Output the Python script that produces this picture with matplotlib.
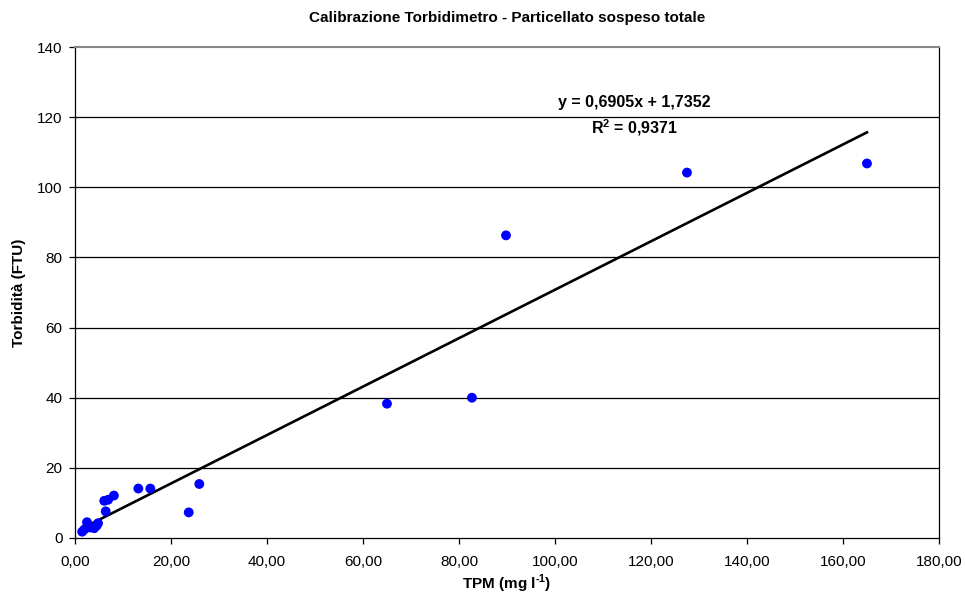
import numpy as np
import matplotlib.pyplot as plt
from matplotlib.ticker import FuncFormatter

plt.rcParams['font.family'] = ['Liberation Sans', 'DejaVu Sans']
plt.rcParams['mathtext.fontset'] = 'custom'
plt.rcParams['mathtext.rm'] = 'Liberation Sans'
plt.rcParams['mathtext.bf'] = 'Liberation Sans:bold'

# TPM (mg/l) vs torbidita (FTU)
tpm = [1.5, 2.0, 2.5, 3.2, 4.0, 4.5, 4.8, 6.4, 6.1, 6.9, 8.1,
       13.2, 15.7, 23.7, 25.9, 65.0, 82.7, 89.8, 127.5, 165.0]
ftu = [1.8, 2.5, 4.5, 3.0, 2.8, 3.5, 4.2, 7.6, 10.6, 10.9, 12.1,
       14.1, 14.1, 7.3, 15.4, 38.3, 40.0, 86.3, 104.2, 106.8]

slope = 0.6905
intercept = 1.7352
r2 = 0.9371

fig = plt.figure(figsize=(9.65, 6.03), dpi=100)
ax = fig.add_axes([0.0777, 0.1078, 0.8953, 0.8142])

for yv in range(20, 140, 20):
    ax.axhline(yv, color='black', lw=0.9, zorder=1)

ax.scatter(tpm, ftu, s=50, color='#0000ff', zorder=3, edgecolors='none')

xl = np.array([min(tpm), max(tpm)])
ax.plot(xl, slope * xl + intercept, color='black', lw=1.9, zorder=2)

ax.set_xlim(0, 180)
ax.set_ylim(0, 140)
ax.set_xticks(range(0, 181, 20))
ax.set_yticks(range(0, 141, 20))
ax.xaxis.set_major_formatter(FuncFormatter(lambda v, p: f"{v:.2f}".replace('.', ',')))
ax.tick_params(direction='out', length=4, labelsize=11, width=0.9)
ax.tick_params(axis='x', pad=8)
ax.tick_params(axis='y', pad=5)

ax.spines['top'].set_color('#888888')
ax.spines['top'].set_linewidth(1.5)
for s in ['left', 'bottom', 'right']:
    ax.spines[s].set_color('black')
    ax.spines[s].set_linewidth(0.9)

ax.set_title('Calibrazione Torbidimetro - Particellato sospeso totale',
             fontsize=11, fontweight='bold', pad=18)
ax.set_xlabel('TPM (mg l$^{\\mathbf{\u2010}\\mathbf{1}}$)', fontsize=11, fontweight='bold', labelpad=3)
ax.set_ylabel('Torbidità (FTU)', fontsize=11, fontweight='bold', labelpad=8)

ax.text(116.5, 124.1, f'y = {slope:.4f}x + {intercept:.4f}'.replace('.', ','),
        ha='center', va='center', fontsize=11.5, fontweight='bold')
ax.text(116.5, 116.9, r'R$^{\mathbf{2}}$ = ' + f'{r2:.4f}'.replace('.', ','),
        ha='center', va='center', fontsize=11.5, fontweight='bold')

fig.savefig('out.png', dpi=100)
